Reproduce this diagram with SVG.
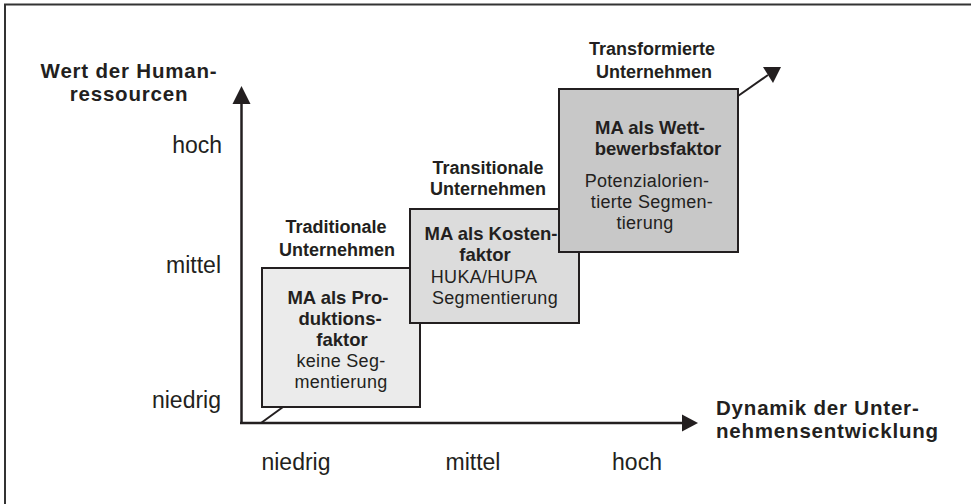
<svg xmlns="http://www.w3.org/2000/svg" width="971" height="504" viewBox="0 0 971 504">
<defs>
<style>
text{font-family:"Liberation Sans",Arial,sans-serif;fill:#231f20}
.t{font-size:20.5px;font-weight:bold;letter-spacing:0.8px}
.v{font-size:23px}
.h{font-size:18px;font-weight:bold;text-anchor:middle}
.b{font-size:18.5px;font-weight:bold;text-anchor:middle}
.r{font-size:18px;text-anchor:middle;letter-spacing:0.3px}
.box{stroke:#231f20;stroke-width:2}
.ax{stroke:#231f20;stroke-width:2.5;fill:none}
</style>
</defs>
<rect width="971" height="504" fill="#fff"/>
<path d="M5,504 V4.5 H971" fill="none" stroke="#333" stroke-width="2"/>

<g id="connectors">
<line class="ax" x1="241.5" y1="424" x2="241.5" y2="104"/>
<path d="M232.5,104 L241.5,86 L250.5,104 Z" fill="#231f20"/>
<line class="ax" x1="240" y1="423" x2="682" y2="423"/>
<path d="M682,414.5 L698,423 L682,431.5 Z" fill="#231f20"/>
<line x1="261" y1="423" x2="283" y2="407" stroke="#231f20" stroke-width="2"/>
<line x1="738" y1="96" x2="768" y2="75" stroke="#231f20" stroke-width="2"/>
<path d="M763,67 L781,67 L773,83 Z" fill="#231f20"/>
</g>

<g id="y-axis-title">
<text class="t" x="129" y="78" text-anchor="middle">Wert der Human-</text>
<text class="t" x="129" y="101" text-anchor="middle">ressourcen</text>
</g>
<g id="y-labels">
<text class="v" x="222" y="153" text-anchor="end">hoch</text>
<text class="v" x="221" y="273" text-anchor="end">mittel</text>
<text class="v" x="221" y="408" text-anchor="end">niedrig</text>
</g>
<g id="x-labels">
<text class="v" x="296" y="470" text-anchor="middle">niedrig</text>
<text class="v" x="473" y="470" text-anchor="middle">mittel</text>
<text class="v" x="637" y="470" text-anchor="middle">hoch</text>
</g>
<g id="x-axis-title">
<text class="t" x="716" y="415">Dynamik der Unter-</text>
<text class="t" x="716" y="438">nehmensentwicklung</text>
</g>

<g id="traditional">
<text class="h" x="336" y="233">Traditionale</text>
<text class="h" x="337" y="256">Unternehmen</text>
<rect class="box" x="262" y="268" width="158" height="139" fill="#ebebeb"/>
<text class="b" x="338" y="304">MA als Pro-</text>
<text class="b" x="340" y="325">duktions-</text>
<text class="b" x="342" y="346">faktor</text>
<text class="r" x="341" y="367">keine Seg-</text>
<text class="r" x="341" y="388">mentierung</text>
</g>

<g id="transitional">
<text class="h" x="488" y="174">Transitionale</text>
<text class="h" x="488" y="195">Unternehmen</text>
<rect class="box" x="410" y="209" width="169" height="114" fill="#dcdcdc"/>
<text class="b" x="491" y="240">MA als Kosten-</text>
<text class="b" x="485" y="261">faktor</text>
<text class="r" x="484" y="283">HUKA/HUPA</text>
<text class="r" x="495" y="304">Segmentierung</text>
</g>

<g id="transformed">
<text class="h" x="652" y="55">Transformierte</text>
<text class="h" x="654" y="78">Unternehmen</text>
<rect class="box" x="559" y="89" width="179" height="163" fill="#c8c8c8"/>
<text class="b" x="650" y="134">MA als Wett-</text>
<text class="b" x="658" y="155">bewerbsfaktor</text>
<text class="r" x="647" y="187">Potenzialorien-</text>
<text class="r" x="652" y="208">tierte Segmen-</text>
<text class="r" x="645" y="229">tierung</text>
</g>
</svg>
